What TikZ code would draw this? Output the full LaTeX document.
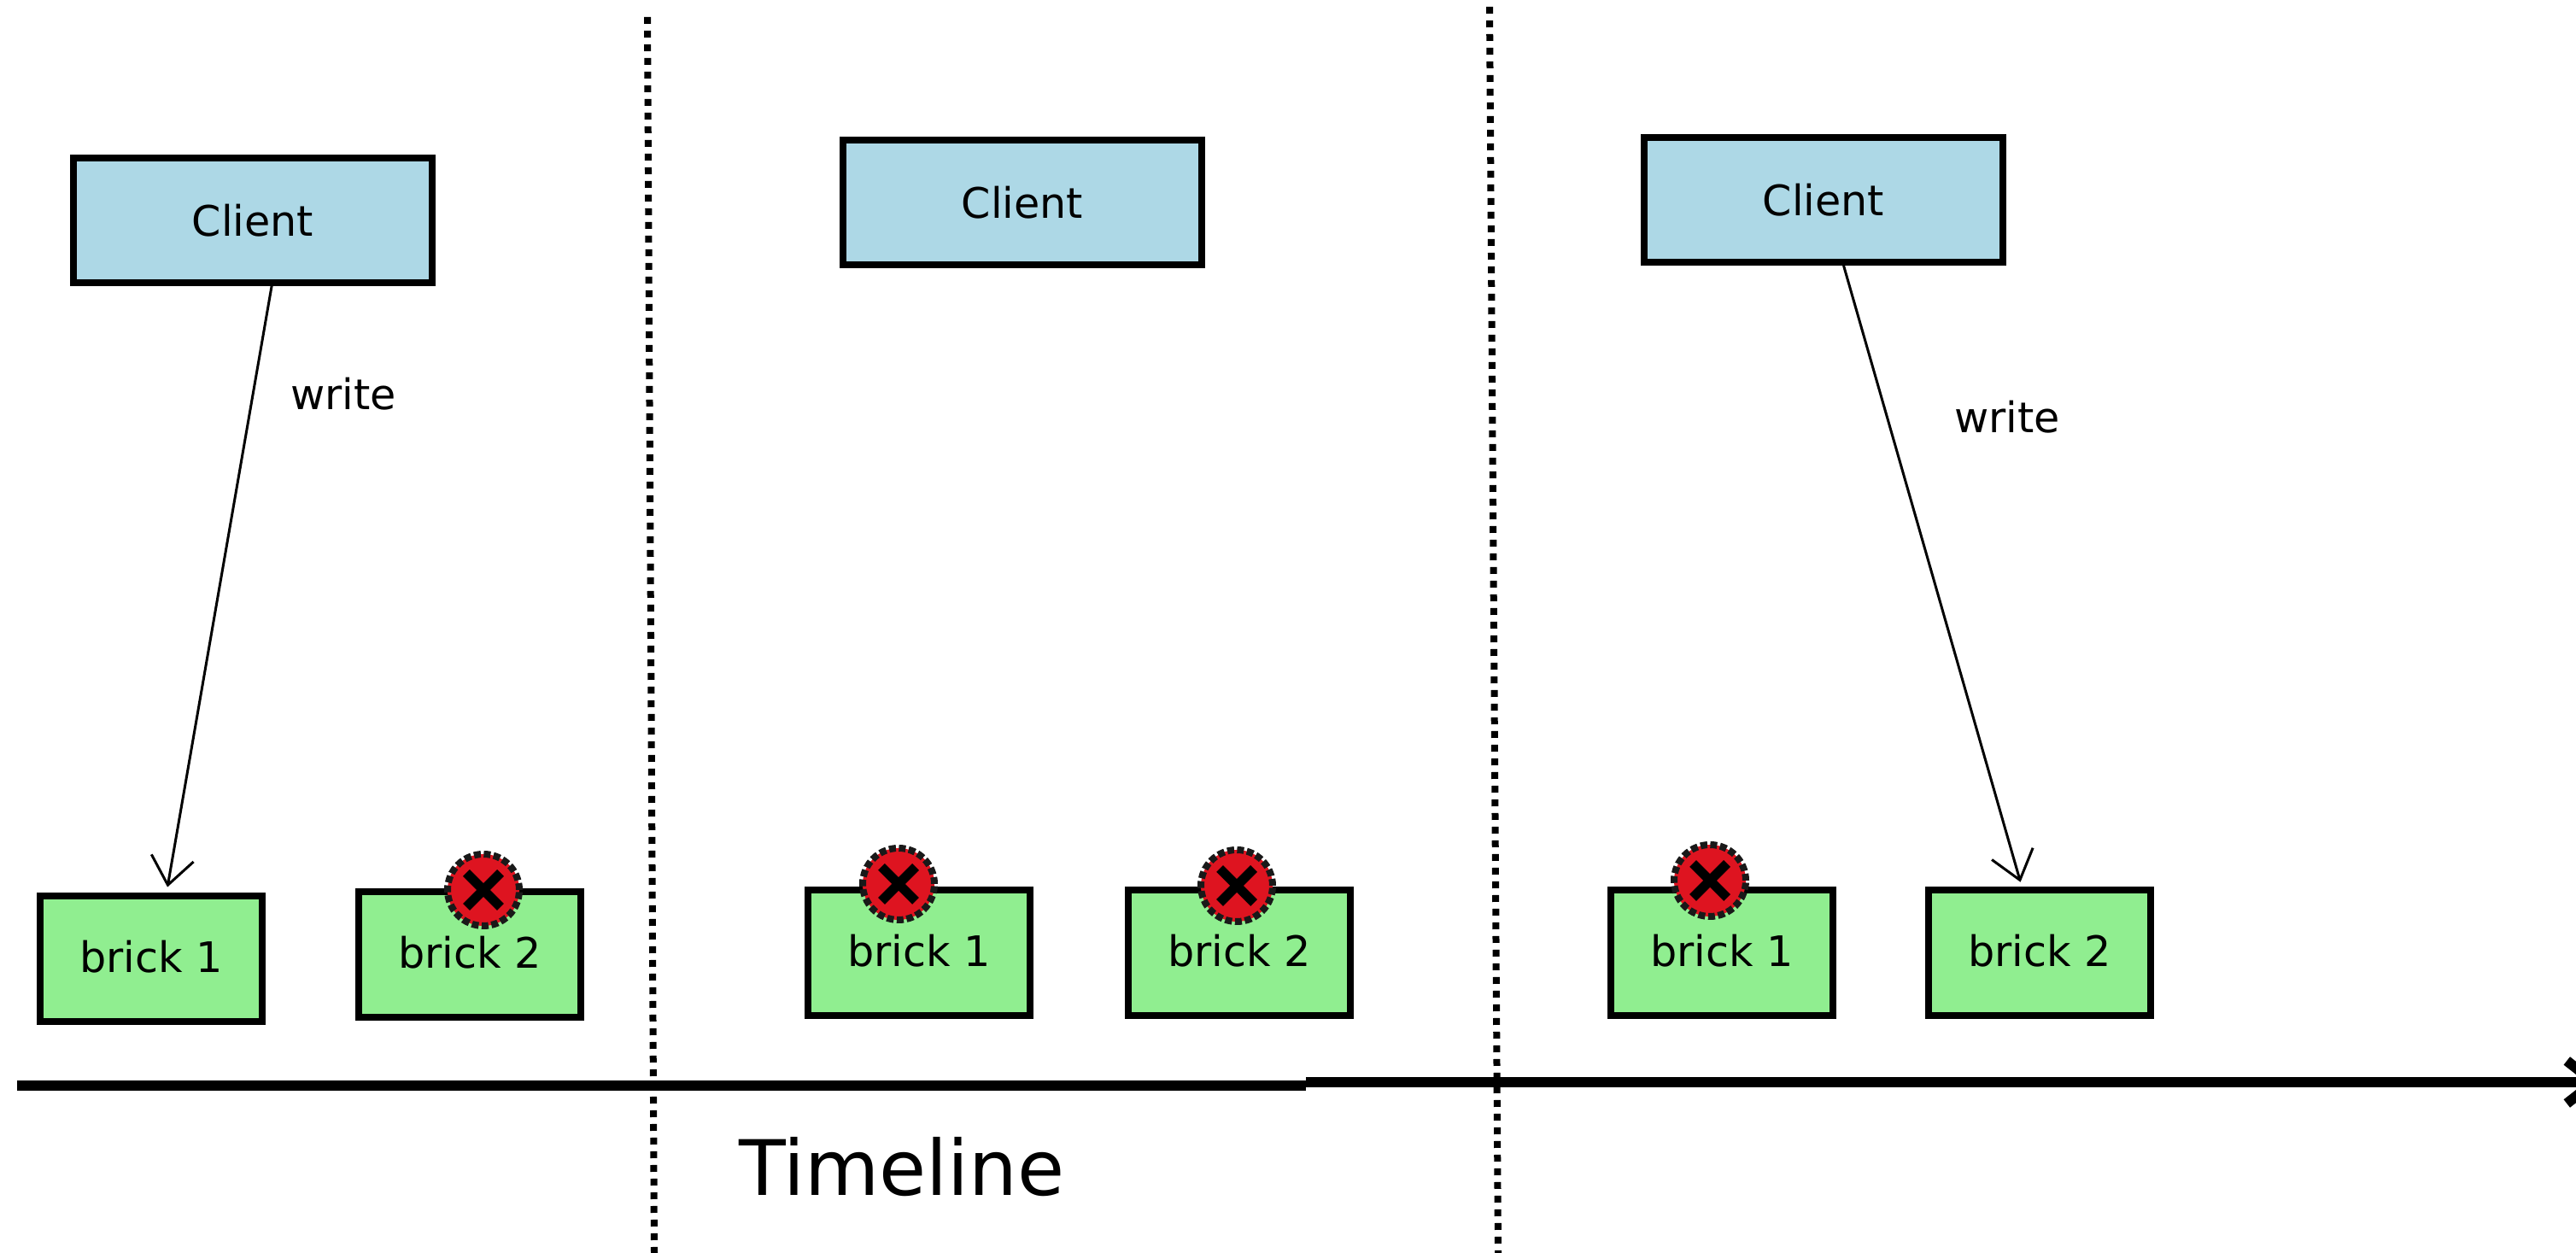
\documentclass[tikz,border=0pt]{standalone}
\usepackage{fontspec}
\setmainfont{DejaVu Sans}
\usetikzlibrary{arrows.meta}
\definecolor{clientblue}{HTML}{ADD8E6}
\definecolor{brickgreen}{HTML}{90EE90}
\definecolor{failred}{HTML}{DE1420}

\begin{document}
\begin{tikzpicture}
[>={Straight Barb[length=0.32cm,width=0.5cm]},
client/.style={draw,line width=0.08cm,fill=clientblue,minimum width=4.2cm,minimum height=1.46cm,font=\fontsize{14}{16}\selectfont},
brick/.style={draw,line width=0.08cm,fill=brickgreen,minimum width=2.6cm,minimum height=1.47cm,font=\fontsize{14}{16}\selectfont},
fail/.style={circle,draw=black!90,line width=0.08cm,densely dotted,fill=failred,minimum size=0.84cm,inner sep=0pt,
  path picture={\draw[black,solid,line width=0.11cm] (-0.2,-0.2) -- (0.2,0.2) (-0.2,0.2) -- (0.2,-0.2);}},
divider/.style={line width=0.08cm,dash pattern=on 0.08cm off 0.08cm},
timeline/.style={line width=0.12cm},
note/.style={font=\fontsize{14}{16}\selectfont},]

\useasboundingbox (0,0) rectangle (30.16,14.67);

%Clients
\node (client1) at (2.96,12.09)[client] {Client};
\node (client2) at (11.97,12.30)[client] {Client};
\node (client3) at (21.35,12.33)[client] {Client};

%Bricks
\node (brick1a) at (1.77,3.44)[brick,text depth=0.06cm] {brick 1};
\node (brick2a) at (5.50,3.49)[brick,text depth=0.06cm] {brick 2};
\node (brick1b) at (10.76,3.51)[brick,text depth=0.06cm] {brick 1};
\node (brick2b) at (14.51,3.51)[brick,text depth=0.06cm] {brick 2};
\node (brick1c) at (20.16,3.51)[brick,text depth=0.06cm] {brick 1};
\node (brick2c) at (23.88,3.51)[brick,text depth=0.06cm] {brick 2};

%Failed bricks
\node (fail2a) at (5.66,4.25)[fail] {};
\node (fail1b) at (10.52,4.32)[fail] {};
\node (fail2b) at (14.48,4.30)[fail] {};
\node (fail1c) at (20.02,4.36)[fail] {};

%Writes
\draw[->,line width=0.03cm,shorten >=0.07cm] (client1.-74) -- (brick1a.77);
\draw[->,line width=0.03cm,shorten >=0.06cm] (client3.-73) -- (brick2c.105);
\node (write1) at (4.02,10.06)[note] {write};
\node (write2) at (23.50,9.79)[note] {write};

%Dividers
\coordinate (div1top) at (7.58,14.47);
\coordinate (div1bottom) at (7.66,0);
\coordinate (div2top) at (17.44,14.59);
\coordinate (div2bottom) at (17.54,0);
\draw[divider] (div1top) -- (div1bottom);
\draw[divider] (div2top) -- (div2bottom);

%Timeline
\coordinate (start) at (0.20,1.96);
\coordinate (midleft) at (15.29,1.96);
\coordinate (midright) at (15.29,2.00);
\coordinate (end) at (30.47,2.00);
\draw[timeline] (start) -- (midleft);
\draw[timeline,->] (midright) -- (end);
\node (timelabel) at (10.56,1.01)[font=\fontsize{25.5}{30}\selectfont] {Timeline};

\end{tikzpicture}
\end{document}
